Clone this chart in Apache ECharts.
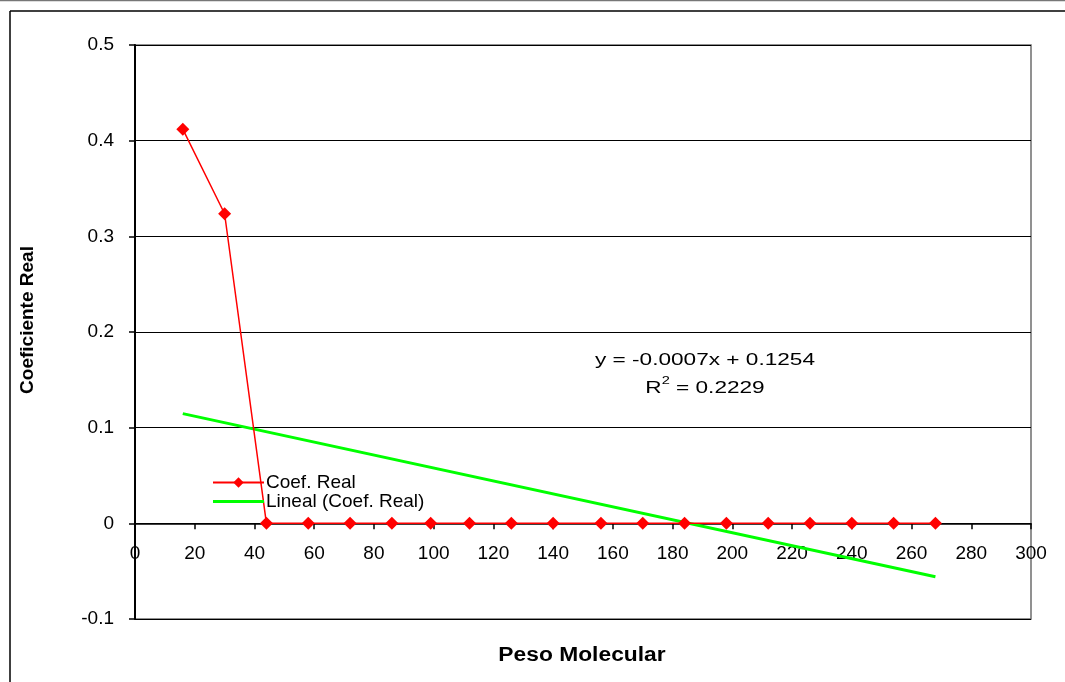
<!DOCTYPE html>
<html>
<head>
<meta charset="utf-8">
<script src="https://cdn.jsdelivr.net/npm/echarts@6/dist/echarts.min.js"></script>
<style>
  html, body { margin: 0; padding: 0; background: #fff; }
  #chart { width: 1065px; height: 682px; }
</style>
</head>
<body>
<div id="chart"></div>
<script>
// Molecular weight of each component and its real coefficient
const pesoMolecular = [16, 30, 44, 58, 72, 86, 99, 112, 126, 140, 156, 170, 184, 198, 212, 226, 240, 254, 268];
const coefReal = [0.412, 0.3236, 0, 0, 0, 0, 0, 0, 0, 0, 0, 0, 0, 0, 0, 0, 0, 0, 0];

// Linear trend line end points (over the data range)
const trendX = [16, 268];
const trendY = [0.1147, -0.0558];

const equationText = 'y = -0.0007x + 0.1254';
const r2Value = '0.2229';

const xTicks = { min: 0, max: 300, interval: 20 };
const yTicks = { min: -0.1, max: 0.5, interval: 0.1 };

const FONT = '"Liberation Sans", Arial, sans-serif';

const W = 1065, H = 682;
const GRID = { left: 135, right: 34, top: 45, bottom: 63 };
// the x axis sits on the y = 0 line: shift it up from the grid bottom accordingly
const plotH = H - GRID.top - GRID.bottom;
const xAxisOffset = -((0 - yTicks.min) / (yTicks.max - yTicks.min)) * plotH;

// thin horizontal bar icon for the trend-line legend entry (bbox padded to full item height)
const trendIcon = 'path://M0,0h1v0.05h-1zM0,4.5h51v3h-51zM0,12h1v-0.05h-1z';

const chart = echarts.init(document.getElementById('chart'), null, { renderer: 'canvas' });

chart.setOption({
  animation: false,
  backgroundColor: '#ffffff',
  textStyle: { fontFamily: FONT, color: '#000' },
  grid: {
    left: GRID.left, right: GRID.right, top: GRID.top, bottom: GRID.bottom,
    outerBoundsMode: 'none',
    containLabel: false,
    show: true, borderColor: '#6e6e6e', borderWidth: 1.5, backgroundColor: '#fff'
  },
  legend: {
    orient: 'vertical',
    left: 207, top: 468,
    itemWidth: 51, itemHeight: 13, itemGap: 0,
    textStyle: { fontFamily: FONT, fontSize: 19, lineHeight: 19, color: '#000', padding: [0, 0, 0, -3] },
    data: [
      { name: 'Coef. Real' },
      { name: 'Lineal (Coef. Real)', icon: trendIcon }
    ]
  },
  xAxis: {
    type: 'value',
    position: 'bottom',
    offset: xAxisOffset,
    min: xTicks.min, max: xTicks.max, interval: xTicks.interval,
    axisLine: { show: true, onZero: false, lineStyle: { color: '#000', width: 1.5 } },
    axisTick: { show: true, length: 6, lineStyle: { color: '#000', width: 1.5 } },
    axisLabel: { fontFamily: FONT, fontSize: 19, color: '#000', margin: 21 },
    splitLine: { show: false }
  },
  yAxis: {
    type: 'value',
    min: yTicks.min, max: yTicks.max, interval: yTicks.interval,
    axisLine: { show: true, onZero: false, lineStyle: { color: '#000', width: 2 } },
    axisTick: { show: true, length: 6, lineStyle: { color: '#000', width: 1.5 } },
    axisLabel: {
      fontFamily: FONT, fontSize: 19, color: '#000', margin: 21,
      formatter: v => {
        const r = Math.round(v * 10) / 10;
        return r === 0 ? '0' : String(r);
      }
    },
    splitLine: { show: true, lineStyle: { color: '#000', width: 1 } }
  },
  series: [
    {
      name: 'Coef. Real',
      type: 'line',
      data: pesoMolecular.map((x, i) => [x, coefReal[i]]),
      symbol: 'diamond',
      symbolSize: 13,
      lineStyle: { color: '#ff0000', width: 1.5 },
      itemStyle: { color: '#ff0000' },
      z: 3
    },
    {
      name: 'Lineal (Coef. Real)',
      type: 'line',
      data: trendX.map((x, i) => [x, trendY[i]]),
      symbol: 'none',
      lineStyle: { color: '#00ff00', width: 3 },
      itemStyle: { color: '#00ff00' },
      z: 2
    }
  ],
  graphic: [
    // outer frame
    { type: 'line', silent: true, shape: { x1: 0, y1: 0.5, x2: W, y2: 0.5 }, style: { stroke: '#777', lineWidth: 1.5 } },
    { type: 'line', silent: true, shape: { x1: 10, y1: 11, x2: W, y2: 11 }, style: { stroke: '#000', lineWidth: 1.5 } },
    { type: 'line', silent: true, shape: { x1: 10, y1: 11, x2: 10, y2: H }, style: { stroke: '#000', lineWidth: 1.5 } },
    // axis titles
    {
      type: 'text', silent: true, x: 582, y: 655, scaleX: 1.14, z: 10,
      style: { text: 'Peso Molecular', font: 'bold 20px ' + FONT, fill: '#000', align: 'center', verticalAlign: 'middle' }
    },
    {
      type: 'text', silent: true, x: 28, y: 320, rotation: Math.PI / 2, z: 10,
      style: { text: 'Coeficiente Real', font: 'bold 19px ' + FONT, fill: '#000', align: 'center', verticalAlign: 'middle' }
    },
    // trend equation
    {
      type: 'text', silent: true, x: 705, y: 360, scaleX: 1.33, z: 10,
      style: { text: equationText, font: '17px ' + FONT, fill: '#000', align: 'center', verticalAlign: 'middle' }
    },
    {
      type: 'text', silent: true, x: 705, y: 386, scaleX: 1.33, z: 10,
      style: {
        text: '{b|R}{s|2}{b| = ' + r2Value + '}',
        align: 'center', verticalAlign: 'middle',
        rich: {
          b: { fontFamily: FONT, fontSize: 17, color: '#000', verticalAlign: 'bottom', lineHeight: 22 },
          s: { fontFamily: FONT, fontSize: 11, color: '#000', verticalAlign: 'top', lineHeight: 22 }
        }
      }
    }
  ]
});
</script>
</body>
</html>
